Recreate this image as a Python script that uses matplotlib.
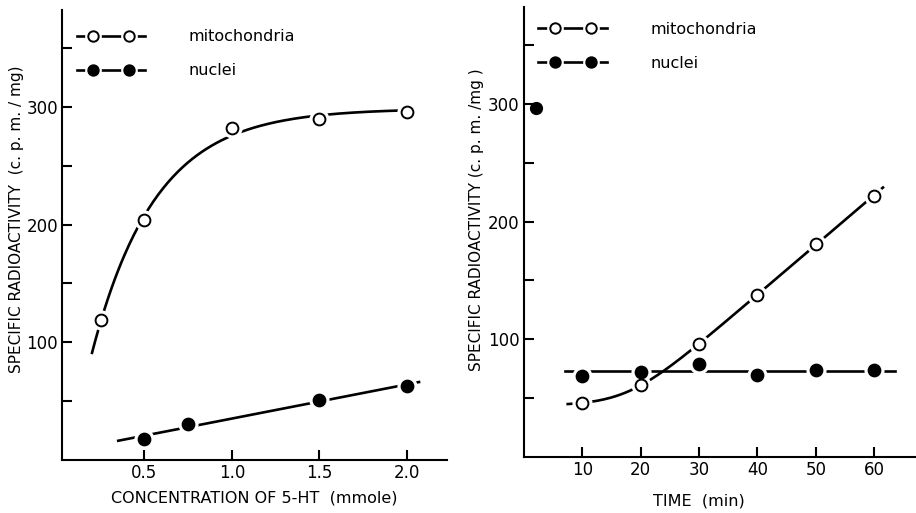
import matplotlib
matplotlib.use("Agg")
import matplotlib.pyplot as plt
from matplotlib.lines import Line2D
from matplotlib.legend_handler import HandlerLine2D
import numpy as np

# left panel: concentration of 5-HT (mmole)
conc_mito = [0.25, 0.5, 1.0, 1.5, 2.0]
act_mito_conc = [119, 204, 282, 290, 296]
conc_nuc = [0.5, 0.75, 1.5, 2.0]
act_nuc_conc = [18, 31, 51, 63]

# right panel: time (min)
time_pts = [10, 20, 30, 40, 50, 60]
act_mito_time = [46, 61, 96, 138, 181, 222]
act_nuc_time = [69, 72, 79, 70, 74, 74]
stray_time = [2]
stray_act = [296]

conc_ticks = [0.5, 1.0, 1.5, 2.0]
time_ticks = [10, 20, 30, 40, 50, 60]
act_ticks = [50, 100, 150, 200, 250, 300, 350]

LW = 1.9
MS = 8.5


def fit_saturating(x, y):
    x = np.asarray(x, float); y = np.asarray(y, float)
    best = None
    for k in np.linspace(0.5, 8, 400):
        A = np.column_stack([np.ones_like(x), -np.exp(-k * x)])
        coef, *_ = np.linalg.lstsq(A, y, rcond=None)
        r = np.sum((A @ coef - y) ** 2)
        if best is None or r < best[0]:
            best = (r, k, coef)
    _, k, (a, b) = best
    return lambda t: a - b * np.exp(-k * t)


def fit_softplus(x, y):
    x = np.asarray(x, float); y = np.asarray(y, float)
    best = None
    for c in np.linspace(10, 40, 121):
        for s in np.linspace(1, 12, 45):
            f = s * np.log1p(np.exp((x - c) / s))
            A = np.column_stack([np.ones_like(x), f])
            coef, *_ = np.linalg.lstsq(A, y, rcond=None)
            r = np.sum((A @ coef - y) ** 2)
            if best is None or r < best[0]:
                best = (r, c, s, coef)
    _, c, s, (b, a) = best
    return lambda t: b + a * s * np.log1p(np.exp((t - c) / s))


class FullLineHandler(HandlerLine2D):
    # line across the whole handle, two markers set inward, with small gaps
    def create_artists(self, legend, orig_handle, xdescent, ydescent,
                       width, height, fontsize, trans):
        y = height / 2 - ydescent
        pad = 0.24 * width
        xs = [-xdescent + pad, -xdescent + width - pad]
        line = Line2D([-xdescent, -xdescent + width], [y, y], color="black", lw=LW)
        halo = Line2D(xs, [y, y], ls="none", marker="o", ms=11, mfc="white", mec="white")
        marks = Line2D(xs, [y, y], ls="none", marker="o", ms=7.5,
                       mfc=orig_handle.get_markerfacecolor(), mec="black", mew=1.4)
        for a in (line, halo, marks):
            a.set_transform(trans)
        return [line, halo, marks]


def draw_series(ax, x, y, filled, label):
    ax.plot(x, y, ls="none", marker="o", ms=MS + 5, mfc="white", mec="white", zorder=3)
    ln, = ax.plot(x, y, ls="none", marker="o", ms=MS,
                  mfc="black" if filled else "white", mec="black", mew=1.4,
                  label=label, zorder=4)
    return ln


def style_axes(ax, xticks, xlim, xlabel):
    for s in ["top", "right"]:
        ax.spines[s].set_visible(False)
    for s in ["left", "bottom"]:
        ax.spines[s].set_linewidth(1.5)
    ax.set_xlim(*xlim)
    ax.set_ylim(0, 382)
    ax.set_xticks(xticks)
    ax.set_yticks(act_ticks)
    ax.set_yticklabels([str(v) if v % 100 == 0 else "" for v in act_ticks])
    ax.tick_params(direction="in", length=7, width=1.5, labelsize=12, pad=3)
    ax.set_xlabel(xlabel, fontsize=11.5)


def add_legend(ax, handles, top):
    ax.legend(handles, [h.get_label() for h in handles], loc="upper left",
              bbox_to_anchor=(0.0, top), frameon=False,
              handlelength=4.3, handletextpad=2.7, labelspacing=1.2,
              handler_map={Line2D: FullLineHandler()},
              prop={"size": 11.5})


fig = plt.figure(figsize=(9.16, 5.13), dpi=100)
ax1 = fig.add_axes([0.068, 0.103, 0.420, 0.877])
ax2 = fig.add_axes([0.572, 0.109, 0.427, 0.877])

# left panel curves
f_mito = fit_saturating(conc_mito, act_mito_conc)
xc = np.linspace(0.2, 2.04, 200)
ax1.plot(xc, f_mito(xc), color="black", lw=LW, zorder=2)
p = np.polyfit(conc_nuc, act_nuc_conc, 1)
xn = np.linspace(0.35, 2.07, 50)
ax1.plot(xn, np.polyval(p, xn), color="black", lw=LW, zorder=2)
h1 = draw_series(ax1, conc_mito, act_mito_conc, False, "mitochondria")
h2 = draw_series(ax1, conc_nuc, act_nuc_conc, True, "nuclei")
style_axes(ax1, conc_ticks, (0.03, 2.23), "CONCENTRATION OF 5-HT  (mmole)")
ax1.set_xticklabels(["0.5", "1.0", "1.5", "2.0"])
ax1.set_ylabel("SPECIFIC RADIOACTIVITY  (c. p. m. / mg)", fontsize=11)
ax1.yaxis.set_label_coords(-0.099, 0.535)
ax1.xaxis.set_label_coords(0.5, -0.067)
add_legend(ax1, [h1, h2], 0.99)

# right panel curves
f_time = fit_softplus(time_pts, act_mito_time)
xt = np.linspace(7.5, 61.5, 200)
ax2.plot(xt, f_time(xt), color="black", lw=LW, zorder=2)
xh = np.linspace(7, 63.5, 10)
ax2.plot(xh, np.full_like(xh, np.mean(act_nuc_time)), color="black", lw=LW, zorder=2)
g1 = draw_series(ax2, time_pts, act_mito_time, False, "mitochondria")
g2 = draw_series(ax2, time_pts, act_nuc_time, True, "nuclei")
ax2.plot(stray_time, stray_act, ls="none", marker="o", ms=MS, color="black", zorder=4)
style_axes(ax2, time_ticks, (0, 67), "TIME  (min)")
ax2.set_ylabel("SPECIFIC RADIOACTIVITY (c. p. m. /mg )", fontsize=11)
ax2.yaxis.set_label_coords(-0.102, 0.527)
ax2.xaxis.set_label_coords(0.448, -0.08)
add_legend(ax2, [g1, g2], 1.0)

fig.savefig("out.png", dpi=100)
